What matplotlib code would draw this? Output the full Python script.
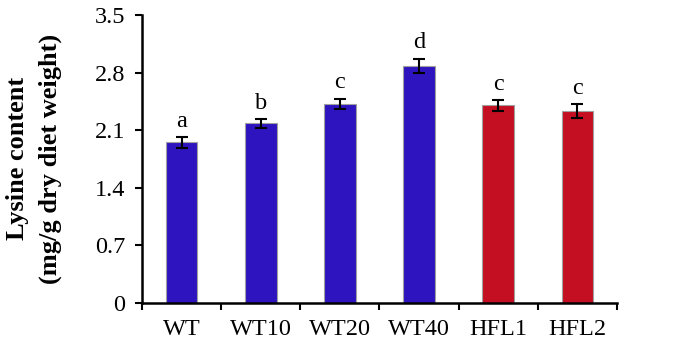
import numpy as np
import matplotlib.pyplot as plt

groups = ['WT', 'WT10', 'WT20', 'WT40', 'HFL1', 'HFL2']
lysine = [1.95, 2.18, 2.42, 2.88, 2.40, 2.33]
err = [0.065, 0.05, 0.06, 0.085, 0.065, 0.085]
letters = ['a', 'b', 'c', 'd', 'c', 'c']
colors = ['#2E14BE'] * 4 + ['#C40E22'] * 2

plt.rcParams['font.family'] = ['Liberation Serif', 'DejaVu Serif']

fig = plt.figure(figsize=(6.75, 3.47), dpi=100)
ax = fig.add_axes([0.2104, 0.1277, 0.7036, 0.8291])

x = np.arange(len(groups))
ax.bar(x, lysine, width=0.4, color=colors, edgecolor='#a0a0a0', linewidth=0.8,
       yerr=err, error_kw=dict(ecolor='black', elinewidth=1.5, capsize=4, capthick=1.5))

for xi, v, e, t in zip(x, lysine, err, letters):
    ax.annotate(t, (xi, v + e), xytext=(0, 4), textcoords='offset points',
                ha='center', va='bottom', fontsize=17.5)

ax.set_xlim(-0.5, len(groups) - 0.5)
ax.set_ylim(0, 3.5)
ax.set_yticks([0, 0.7, 1.4, 2.1, 2.8, 3.5])
ax.set_yticklabels(['0', '0.7', '1.4', '2.1', '2.8', '3.5'])
ax.set_xticks(x)
ax.set_xticklabels(groups)
ax.set_xticks(np.arange(-0.5, len(groups)), minor=True)
ax.tick_params(axis='x', which='major', length=0, pad=12, labelsize=17.5)
ax.tick_params(axis='x', which='minor', length=5, width=1.5, direction='out')
ax.tick_params(axis='y', length=5, width=1.5, direction='out', pad=7, labelsize=17.5)

for s in ['top', 'right']:
    ax.spines[s].set_visible(False)
for s in ['left', 'bottom']:
    ax.spines[s].set_linewidth(1.8)

ax.set_ylabel('Lysine content\n(mg/g dry diet weight)', fontsize=19, fontweight='bold',
              labelpad=24, linespacing=1.5)

fig.savefig('out.png', dpi=100)
